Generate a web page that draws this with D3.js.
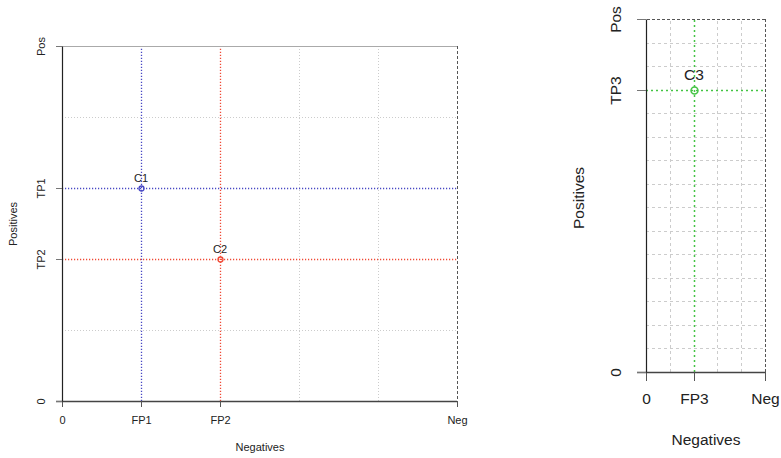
<!DOCTYPE html>
<html>
<head>
<meta charset="utf-8">
<script src="https://cdn.jsdelivr.net/npm/d3@7"></script>
<style>
  body { margin: 0; background: #fff; }
  svg { font-family: "Liberation Sans", Arial, sans-serif; }
</style>
</head>
<body>
<script>
// datos del panel izquierdo
var curvasIzq = ["C1", "C2"]
var fpIzq = [1, 2]
var tpIzq = [3, 2]
var coloresIzq = ["#4848c4", "#f04a36"]
var ticksXIzq = [0, 1, 2, 5]
var etiquetasXIzq = ["0", "FP1", "FP2", "Neg"]
var ticksYIzq = [0, 2, 3, 5]
var etiquetasYIzq = ["0", "TP2", "TP1", "Pos"]
var rejillaXIzq = [3, 4]
var rejillaYIzq = [1, 4]

// datos del panel derecho
var curvasDer = ["C3"]
var fpDer = [2]
var tpDer = [12]
var coloresDer = ["#44c444"]
var ticksXDer = [0, 2, 5]
var etiquetasXDer = ["0", "FP3", "Neg"]
var ticksYDer = [0, 12, 15]
var etiquetasYDer = ["0", "TP3", "Pos"]
var rejillaXDer = [1, 3, 4]
var rejillaYDer = [1, 2, 3, 4, 5, 6, 7, 8, 9, 10, 11, 13, 14]

var svg = d3.select("body").append("svg")
    .attr("width", 781)
    .attr("height", 458)

function panel(cfg) {
    var x = d3.scaleLinear().domain([0, cfg.xmax]).rangeRound([cfg.left, cfg.right])
    var y = d3.scaleLinear().domain([0, cfg.ymax]).rangeRound([cfg.bottom, cfg.top])
    var g = svg.append("g")
    var h = 0.5 // medio pixel para lineas nitidas

    // rejilla
    g.selectAll(".gx").data(cfg.gridX).enter().append("line")
        .attr("x1", d => x(d) + h).attr("x2", d => x(d) + h)
        .attr("y1", y(0)).attr("y2", y(cfg.ymax))
        .attr("stroke", "#cccccc").attr("stroke-dasharray", cfg.gridDash)
    g.selectAll(".gy").data(cfg.gridY).enter().append("line")
        .attr("y1", d => y(d) + h).attr("y2", d => y(d) + h)
        .attr("x1", x(0)).attr("x2", x(cfg.xmax))
        .attr("stroke", "#cccccc").attr("stroke-dasharray", cfg.gridDash)

    // lineas de cada curva
    cfg.names.forEach(function (n, i) {
        g.append("line")
            .attr("x1", x(cfg.fp[i]) + h).attr("x2", x(cfg.fp[i]) + h)
            .attr("y1", y(0)).attr("y2", y(cfg.ymax))
            .attr("stroke", cfg.colors[i]).attr("stroke-width", cfg.cw).attr("stroke-dasharray", cfg.cDash)
        g.append("line")
            .attr("y1", y(cfg.tp[i]) + h).attr("y2", y(cfg.tp[i]) + h)
            .attr("x1", x(0)).attr("x2", x(cfg.xmax))
            .attr("stroke", cfg.colors[i]).attr("stroke-width", cfg.cw).attr("stroke-dasharray", cfg.cDash)
    })

    // bordes
    g.append("line").attr("x1", x(0) - cfg.tick).attr("x2", x(cfg.xmax))
        .attr("y1", y(cfg.ymax) + h).attr("y2", y(cfg.ymax) + h)
        .attr("stroke", cfg.topColor).attr("stroke-dasharray", cfg.topDash)
    g.append("line").attr("x1", x(cfg.xmax) + h).attr("x2", x(cfg.xmax) + h)
        .attr("y1", y(cfg.ymax)).attr("y2", y(0))
        .attr("stroke", "#555").attr("stroke-dasharray", "3,2")

    // ejes
    var ejeX = d3.axisBottom(x).tickValues(cfg.ticksX)
        .tickFormat((d, i) => cfg.labelsX[i]).tickSize(cfg.tick).tickSizeOuter(0).tickPadding(cfg.padX)
    var gx = g.append("g").attr("transform", "translate(0," + y(0) + ")").call(ejeX)
    gx.select(".domain").attr("stroke", "#444").attr("stroke-width", 1.5)
        .attr("d", "M" + (x(0) - cfg.tick) + ",0.5H" + x(cfg.xmax))
    gx.selectAll(".tick line").attr("stroke", "#555")
    gx.selectAll("text").attr("font-size", cfg.fs).attr("fill", "#222")
        .attr("font-family", "Liberation Sans, Arial, sans-serif")

    var ejeY = d3.axisLeft(y).tickValues(cfg.ticksY)
        .tickFormat((d, i) => cfg.labelsY[i]).tickSize(cfg.tick).tickSizeOuter(0).tickPadding(0)
    var gy = g.append("g").attr("transform", "translate(" + x(0) + ",0)").call(ejeY)
    gy.select(".domain").attr("stroke", "#222").attr("stroke-width", 1.2)
    gy.selectAll(".tick line").attr("stroke", "#777")
    gy.selectAll("text").attr("font-size", cfg.fs).attr("fill", "#222")
        .attr("font-family", "Liberation Sans, Arial, sans-serif")
        .attr("text-anchor", "middle").attr("dy", 0)
        .attr("transform", "translate(" + (-cfg.padY) + ",0) rotate(-90)")
        .attr("x", 0)

    // puntos y etiquetas
    g.selectAll(".pt").data(cfg.names).enter().append("circle")
        .attr("cx", (d, i) => x(cfg.fp[i]) + h).attr("cy", (d, i) => y(cfg.tp[i]) + h)
        .attr("r", cfg.r).attr("fill", "none").attr("stroke", (d, i) => cfg.colors[i]).attr("stroke-width", cfg.cw)
    g.selectAll(".lb").data(cfg.names).enter().append("text")
        .attr("x", (d, i) => x(cfg.fp[i])).attr("y", (d, i) => y(cfg.tp[i]) - cfg.labOff)
        .attr("text-anchor", "middle").attr("font-size", cfg.fs).attr("fill", "#222")
        .text(d => d)

    // titulos
    g.append("text").attr("x", cfg.xTitle[0]).attr("y", cfg.xTitle[1])
        .attr("text-anchor", "middle").attr("font-size", cfg.fs).attr("fill", "#222").text("Negatives")
    g.append("text").attr("transform", "translate(" + cfg.yTitle[0] + "," + cfg.yTitle[1] + ") rotate(-90)")
        .attr("text-anchor", "middle").attr("font-size", cfg.fs).attr("fill", "#222").text("Positives")
}

panel({
    left: 62, right: 457, top: 46, bottom: 401, xmax: 5, ymax: 5,
    names: curvasIzq, fp: fpIzq, tp: tpIzq, colors: coloresIzq,
    ticksX: ticksXIzq, labelsX: etiquetasXIzq, ticksY: ticksYIzq, labelsY: etiquetasYIzq,
    gridX: rejillaXIzq, gridY: rejillaYIzq, gridDash: "1,2",
    topColor: "#aaa", topDash: null, cw: 1.3, cDash: "1.2,1.8",
    tick: 6, padX: 9, padY: 17, fs: 11, r: 2.5, labOff: 6,
    xTitle: [260, 451], yTitle: [17, 224]
})

panel({
    left: 646, right: 765, top: 19, bottom: 372, xmax: 5, ymax: 15,
    names: curvasDer, fp: fpDer, tp: tpDer, colors: coloresDer,
    ticksX: ticksXDer, labelsX: etiquetasXDer, ticksY: ticksYDer, labelsY: etiquetasYDer,
    gridX: rejillaXDer, gridY: rejillaYDer, gridDash: "3,3",
    topColor: "#555", topDash: "3,2", cw: 1.5, cDash: "2,3",
    tick: 9, padX: 12, padY: 25, fs: 15.5, r: 3.5, labOff: 10,
    xTitle: [706, 445], yTitle: [584, 198]
})
</script>
</body>
</html>
